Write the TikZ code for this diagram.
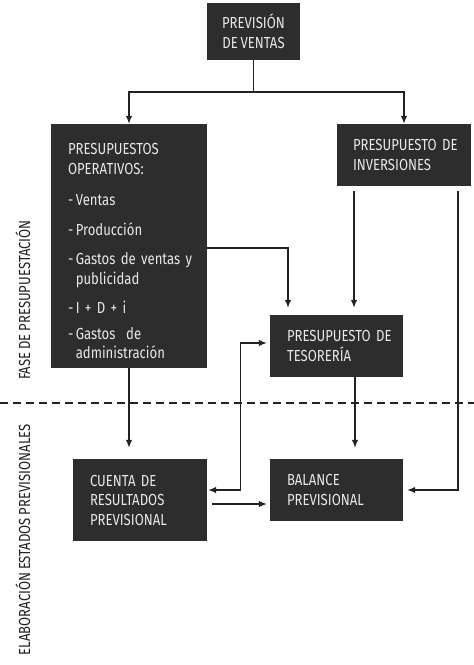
\documentclass[tikz,border=0pt]{standalone}
\usepackage{fontspec}
\setmainfont{Fira Sans}[FakeStretch=0.82,WordSpace=0.8]
\usetikzlibrary{arrows.meta,calc}
\definecolor{boxfill}{HTML}{2D2D2D}
\definecolor{boxtext}{HTML}{E8E8E8}
\definecolor{linecol}{HTML}{222222}
\newcommand{\bl}[1]{\mbox{#1}}
\newcommand{\dsh}{-\hspace{2.5pt}}
\hbadness=10000 \hfuzz=200pt
\tikzset{
  box/.style={fill=boxfill, text=boxtext, draw=none, inner ysep=0pt,
    font=\fontsize{16}{19.5}\selectfont},
  lbox/.style={box, align=left},
  cbox/.style={box, align=center},
  arr/.style={draw=linecol, line width=1.3pt, -{Latex[length=8pt,width=6.5pt]}},
  plain/.style={draw=linecol, line width=1.3pt},
  lbl/.style={text=linecol, font=\fontsize{16}{18}\selectfont, inner sep=0pt}
}
\begin{document}
\begin{tikzpicture}[x=1pt,y=-1pt]
\useasboundingbox (0,0) rectangle (474,665);
% boxes
\node[cbox, minimum width=93pt, minimum height=57pt, inner xsep=0pt] (prev) at (253.5,31.5) {PREVISIÓN\\DE VENTAS};
\node[lbox, minimum height=244pt, text width=122pt, inner xsep=17pt] (oper) at (129,246)
  {\bl{\rule{0pt}{22pt}PRESUPUESTOS}\\\bl{OPERATIVOS:}\\[12pt]\bl{\dsh Ventas}\\[10pt]\bl{\dsh Producción}\\[10pt]\bl{\dsh Gastos de ventas y}\\\bl{\hphantom{\dsh}publicidad}\\[10pt]\bl{\dsh I + D + i}\\[6pt]\bl{\dsh Gastos\ \ de}\\\bl{\hphantom{\dsh}administración}};
\node[lbox, minimum height=62pt, text width=102pt, inner xsep=16pt] (inv) at (404,155) {\bl{PRESUPUESTO DE}\\\bl{INVERSIONES}};
\node[lbox, minimum height=62pt, text width=99pt, inner xsep=17pt] (tes) at (336.5,346) {\bl{PRESUPUESTO DE}\\\bl{TESORERÍA}};
\node[lbox, minimum height=82pt, text width=100pt, inner xsep=17pt] (cuenta) at (140,500) {\bl{CUENTA DE}\\\bl{RESULTADOS}\\\bl{PREVISIONAL}};
\node[lbox, minimum height=62pt, text width=99pt, inner xsep=17pt] (bal) at (336.5,490) {\bl{BALANCE}\\\bl{PREVISIONAL}};
% side labels
\node[lbl, rotate=90] (fase) at (23,300) {FASE DE PRESUPUESTACIÓN};
\node[lbl, rotate=90, anchor=east] (elab) at (23,424) {ELABORACIÓN ESTADOS PREVISIONALES};
% dashed separator
\draw[draw=linecol, line width=1.2pt, dash pattern=on 8pt off 5pt] (0,403) -- (474,403);
% connectors
\coordinate (j) at (253.5,92);
\draw[plain] (prev.south) -- (j);
\draw[arr] (j) -| (oper.north);
\draw[arr] (j) -| (inv.north);
\draw[arr, shorten >=7pt] ([yshift=-2pt]oper.east) -| ([xshift=-48.5pt]tes.north);
\draw[arr, shorten <=5pt, shorten >=7pt] ([xshift=-50pt]inv.south) -- ([xshift=-50pt]inv.south |- tes.north);
\draw[arr, shorten <=5pt, shorten >=4pt] ([xshift=54pt]inv.south) |- (bal.east);
\draw[arr, shorten >=11pt] ([xshift=18.5pt]tes.south) -- ([xshift=18.5pt]tes.south |- bal.north);
\draw[arr, shorten >=11pt] (oper.south) -- (oper.south |- cuenta.north);
\draw[plain, {Latex[length=8pt,width=6.5pt]}-{Latex[length=8pt,width=6.5pt]}, shorten <=1pt, shorten >=3pt]
  ([yshift=10pt]cuenta.east) -| ($(tes.west)+(-29,-3)$) -- ([yshift=3pt]tes.west);
\draw[arr, shorten <=5pt, shorten >=3pt] ([yshift=-4pt]cuenta.east) -- ([yshift=-4pt]cuenta.east -| bal.west);
\end{tikzpicture}
\end{document}
